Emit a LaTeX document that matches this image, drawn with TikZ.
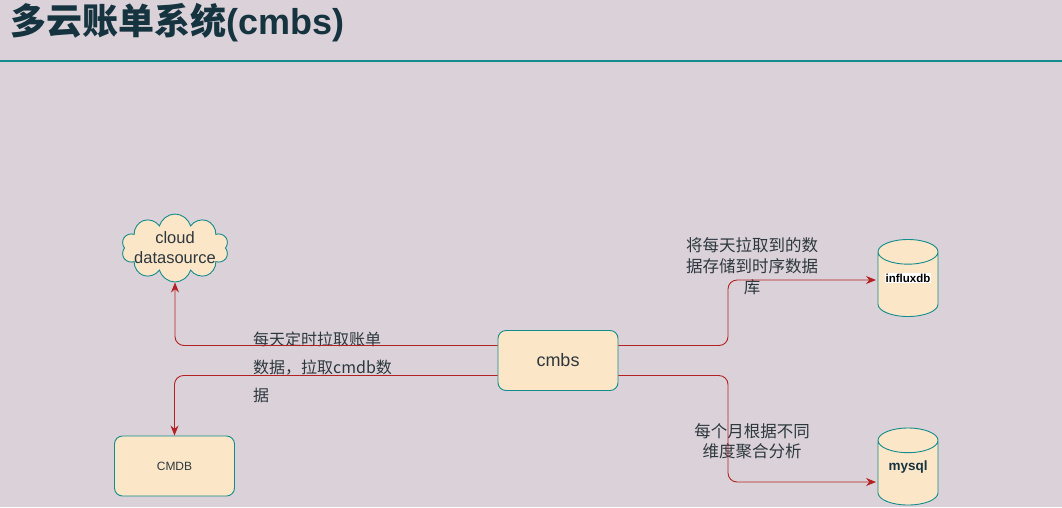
\documentclass[tikz,border=0pt]{standalone}
\usepackage{fontspec}
\setmainfont{Liberation Sans}
\newfontfamily\cjk{Noto Sans CJK SC}
\usetikzlibrary{arrows.meta, positioning, shapes.geometric, shapes.symbols}
\definecolor{bgmauve}{RGB}{219,210,217}
\definecolor{boxfill}{RGB}{252,230,200}
\definecolor{boxline}{RGB}{18,140,140}
\definecolor{linkred}{RGB}{178,34,34}
\definecolor{inktext}{RGB}{45,55,62}
\definecolor{titleink}{RGB}{22,52,64}

\begin{document}
\begin{tikzpicture}[
    x=1pt, y=-1pt,
    >={Stealth[length=10pt,width=8pt]},
    every node/.style={text=inktext},
    box/.style={rectangle, draw=boxline, fill=boxfill, rounded corners=8pt, minimum width=120pt, minimum height=60pt, line width=0.9pt},
    db/.style={cylinder, shape border rotate=90, aspect=3.7, draw=boxline, fill=boxfill, minimum width=60pt, minimum height=77pt, line width=0.9pt, anchor=shape center},
    cloudbox/.style={cloud, cloud puffs=10, aspect=1.6, draw=boxline, fill=boxfill, minimum width=107pt, minimum height=68pt, line width=0.9pt},
    dblabel/.style={inner sep=1pt, font=\bfseries\fontsize{#1}{15}\selectfont},
    note/.style={font=\cjk\fontsize{16.5}{21}\selectfont, align=center, inner sep=0pt},
    line/.style={->, draw=linkred, line width=0.9pt, rounded corners=9pt}
]
\fill[bgmauve] (0,0) rectangle (1062,507);
\useasboundingbox (0,0) rectangle (1062,507);

% title and rule
\node[anchor=base west, inner sep=0pt, text=titleink, font=\fontsize{36}{40}\selectfont\bfseries] (title) at (10,34) {{\cjk 多云账单系统}(cmbs)};
\draw[boxline, line width=2pt] (0,61) -- (1062,61);

% nodes
\node[box, font=\fontsize{18}{20}\selectfont] (cmbs) at (558,360.5) {cmbs};
\node[box, font=\fontsize{12}{14}\selectfont] (cmdb) at (174.5,466) {CMDB};
\node[cloudbox, label={[align=center, font=\fontsize{16.5}{20}\selectfont, text=inktext]center:cloud\\datasource}] (cloud) at (175,248) {};
\node[db] (influx) at (908,278) {};
\node[db] (mysql) at (908,466.5) {};
\node[dblabel=11.5, fill=white, text=black] (influxlbl) at (influx.shape center) {influxdb};
\node[dblabel=13.5, text=titleink] (mysqllbl) at (mysql.shape center) {mysql};
\coordinate (fork) at (728,360);

% notes
\node[note, align=left, font=\cjk\fontsize{16}{28}\selectfont, anchor=west] (pullnote) at (253,367) {每天定时拉取账单\\数据，拉取cmdb数\\据};
\node[note] (storenote) at (752,266) {将每天拉取到的数\\据存储到时序数据\\库};
\node[note, font=\cjk\fontsize{16.5}{20}\selectfont] (aggnote) at (752,441) {每个月根据不同\\维度聚合分析};

% links
\draw[line] ([yshift=15pt]cmbs.west) -| (cloud.south);
\draw[line] ([yshift=-15pt]cmbs.west) -| (cmdb.north);
\draw[line, shorten >=2pt] ([yshift=15pt]cmbs.east) -| ([yshift=-2pt]fork |- influx.shape center) -- ([xshift=-30pt,yshift=-2pt]influx.shape center);
\draw[line, shorten >=2pt] ([yshift=-15pt]cmbs.east) -| ([yshift=-15.5pt]fork |- mysql.shape center) -- ([xshift=-30pt,yshift=-15.5pt]mysql.shape center);
\end{tikzpicture}
\end{document}
